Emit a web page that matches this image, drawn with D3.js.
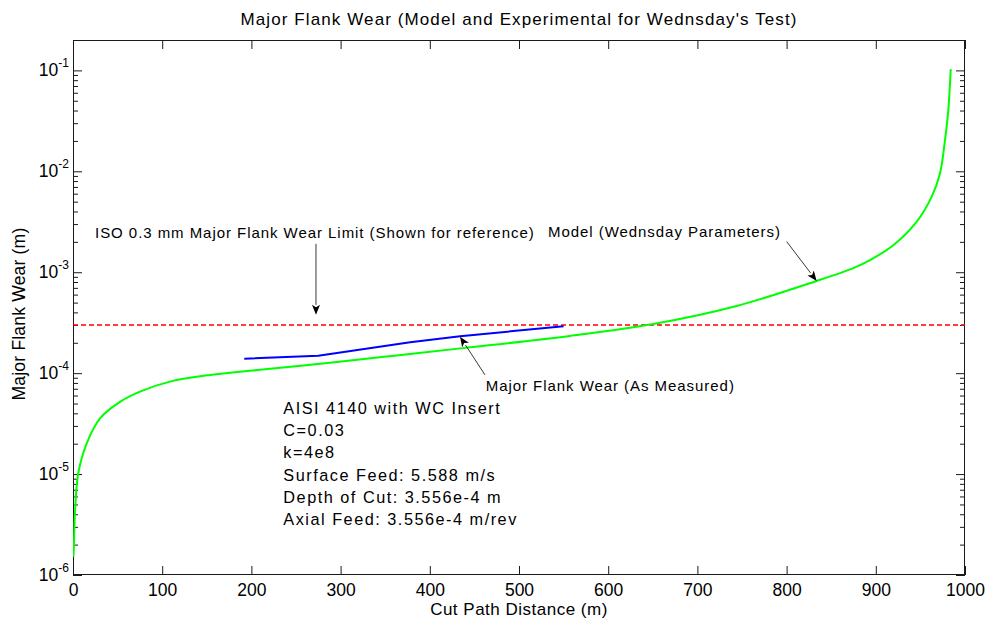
<!DOCTYPE html>
<html><head><meta charset="utf-8">
<script src="https://cdn.jsdelivr.net/npm/d3@7"></script>
<style>
body{margin:0;background:#fff;}
svg{display:block;font-family:"Liberation Sans",Arial,Helvetica,sans-serif;}
</style>
</head><body>
<svg id="chart" width="990" height="623"></svg>
<script>
// ---------- data ----------
const modelX = [0.5, 1.1, 2.2, 5.9, 15.4, 30.3, 52.7, 75.1, 108.7, 153.6, 209.6, 288, 363, 437, 557, 650.6, 744, 833.7, 874.8, 893.5, 919.6, 945.9, 962.7, 972, 977.6, 981.3, 984];
const modelY = [1.52e-6, 2.06e-6, 4.1e-6, 1.02e-5, 2.02e-5, 3.57e-5, 5.2e-5, 6.56e-5, 8.24e-5, 9.6e-5, 1.08e-4, 1.27e-4, 1.50e-4, 1.77e-4, 2.34e-4, 3.07e-4, 4.63e-4, 8.2e-4, 1.1e-3, 1.32e-3, 1.85e-3, 3.17e-3, 5.61e-3, 9.57e-3, 2.05e-2, 4.06e-2, 0.103];
const measuredX = [192, 275, 378, 434, 550];
const measuredY = [1.39e-4, 1.49e-4, 2.02e-4, 2.32e-4, 2.92e-4];
const limitX = [0, 1000];
const limitY = [3e-4, 3e-4];
const xTicks = [0, 100, 200, 300, 400, 500, 600, 700, 800, 900, 1000];
const yDecadeExps = [-6, -5, -4, -3, -2, -1];
const titleText = "Major Flank Wear (Model and Experimental for Wednsday's Test)";
const xLabelText = "Cut Path Distance (m)";
const yLabelText = "Major Flank Wear (m)";
const infoLines = ["AISI 4140 with WC Insert", "C=0.03", "k=4e8", "Surface Feed: 5.588 m/s", "Depth of Cut: 3.556e-4 m", "Axial Feed: 3.556e-4 m/rev"];
const annotations = [
  {text: "ISO 0.3 mm Major Flank Wear Limit (Shown for reference)", tx: 24.7, ty: 2.17e-3, ax1: 272.4, ay1: 1.91e-3, ax2: 272.4, ay2: 3.78e-4},
  {text: "Model (Wednsday Parameters)", tx: 532.5, ty: 2.22e-3, ax1: 800.1, ay1: 2.01e-3, ax2: 833.7, ay2: 8.2e-4},
  {text: "Major Flank Wear (As Measured)", tx: 462.7, ty: 6.71e-5, ax1: 461.9, ay1: 9.6e-5, ax2: 433.9, ay2: 2.30e-4}
];
const infoPos = {x: 235.8, y: 3.94e-5};

// ---------- layout ----------
const m = {l: 73, r: 965, t: 40, b: 575};
const svg = d3.select("#chart");
const x = d3.scaleLinear().domain([0, 1000]).range([m.l, m.r]);
const y = d3.scaleLog().domain([1e-6, 0.2]).range([m.b, m.t]);

// minor log ticks
const minorTicks = [];
yDecadeExps.forEach(e => { for (let k = 2; k <= 9; k++) { const v = k * Math.pow(10, e); if (v <= 0.2) minorTicks.push(v); } });

const axisColor = "#1a1a1a";
function styleAxis(g) { g.select(".domain").remove(); g.selectAll(".tick line").attr("stroke", axisColor); }

// bottom axis with labels
svg.append("g").attr("transform", `translate(0,${m.b})`)
  .call(d3.axisBottom(x).tickValues(xTicks).tickSize(-9).tickPadding(8.5).tickFormat(d3.format("d")))
  .call(styleAxis)
  .call(g => g.selectAll("text").attr("font-size", 17.5).attr("fill", "#000").attr("font-family", null));
// top axis ticks
svg.append("g").attr("transform", `translate(0,${m.t})`)
  .call(d3.axisTop(x).tickValues(xTicks).tickSize(-9).tickFormat(() => ""))
  .call(styleAxis);
// left / right major and minor ticks
svg.append("g").attr("transform", `translate(${m.l},0)`)
  .call(d3.axisLeft(y).tickValues(yDecadeExps.map(e => Math.pow(10, e))).tickSize(-9).tickFormat(() => "")).call(styleAxis);
svg.append("g").attr("transform", `translate(${m.l},0)`)
  .call(d3.axisLeft(y).tickValues(minorTicks).tickSize(-5).tickFormat(() => "")).call(styleAxis);
svg.append("g").attr("transform", `translate(${m.r},0)`)
  .call(d3.axisRight(y).tickValues(yDecadeExps.map(e => Math.pow(10, e))).tickSize(-9).tickFormat(() => "")).call(styleAxis);
svg.append("g").attr("transform", `translate(${m.r},0)`)
  .call(d3.axisRight(y).tickValues(minorTicks).tickSize(-5).tickFormat(() => "")).call(styleAxis);

// y tick labels 10^n
yDecadeExps.forEach(e => {
  const t = svg.append("text").attr("x", m.l - 4).attr("y", y(Math.pow(10, e)) + 6).attr("text-anchor", "end").attr("fill", "#000");
  t.append("tspan").attr("font-size", 17.5).text("10");
  t.append("tspan").attr("font-size", 12).attr("dy", -9).text(String(e));
});

// box
svg.append("rect").attr("x", m.l + 0.5).attr("y", m.t + 0.5).attr("width", m.r - m.l - 1).attr("height", m.b - m.t - 1)
  .attr("fill", "none").attr("stroke", axisColor).attr("stroke-width", 1);

// data lines
svg.append("clipPath").attr("id", "clip").append("rect").attr("x", m.l).attr("y", m.t).attr("width", m.r - m.l).attr("height", m.b - m.t);
const plot = svg.append("g").attr("clip-path", "url(#clip)");
const lineOf = (xs, ys, curve) => d3.line().x((d, i) => x(xs[i])).y((d, i) => y(ys[i])).curve(curve)(xs);
plot.append("path").attr("d", lineOf(limitX, limitY, d3.curveLinear)).attr("fill", "none")
  .attr("stroke", "#ff0000").attr("stroke-width", 1.5).attr("stroke-dasharray", "5,3");
plot.append("path").attr("d", lineOf(modelX, modelY, d3.curveCatmullRom.alpha(0.5))).attr("fill", "none")
  .attr("stroke", "#00ff00").attr("stroke-width", 2);
plot.append("path").attr("d", lineOf(measuredX, measuredY, d3.curveLinear)).attr("fill", "none")
  .attr("stroke", "#0000ff").attr("stroke-width", 2);

// annotations
function arrow(x1, y1, x2, y2) {
  const dx = x2 - x1, dy = y2 - y1, L = Math.hypot(dx, dy), ux = dx / L, uy = dy / L;
  const hl = 10, hw = 4;
  const bx = x2 - ux * hl, by = y2 - uy * hl;
  svg.append("line").attr("x1", x1).attr("y1", y1).attr("x2", bx).attr("y2", by).attr("stroke", "#222").attr("stroke-width", 0.9);
  svg.append("path").attr("d", `M${x2},${y2}L${bx - uy * hw},${by + ux * hw}L${bx + ux * 2.5},${by + uy * 2.5}L${bx + uy * hw},${by - ux * hw}Z`).attr("fill", "#000");
}
annotations.forEach(a => {
  svg.append("text").attr("x", x(a.tx)).attr("y", y(a.ty)).attr("font-size", 15).attr("letter-spacing", 0.95).attr("fill", "#000").text(a.text);
  arrow(x(a.ax1), y(a.ay1), x(a.ax2), y(a.ay2));
});

// info block
const info = svg.append("text").attr("font-size", 16.3).attr("letter-spacing", 1.5).attr("fill", "#000");
infoLines.forEach((s, i) => info.append("tspan").attr("x", x(infoPos.x)).attr("y", y(infoPos.y) + i * 22.2).text(s));

// title and axis labels
svg.append("text").attr("x", (m.l + m.r) / 2).attr("y", 24.5).attr("text-anchor", "middle").attr("font-size", 17).attr("letter-spacing", 1.1).attr("fill", "#000").text(titleText);
svg.append("text").attr("x", (m.l + m.r) / 2).attr("y", 615).attr("text-anchor", "middle").attr("font-size", 17).attr("letter-spacing", 0.5).attr("fill", "#000").text(xLabelText);
svg.append("text").attr("transform", `translate(25,314) rotate(-90)`).attr("text-anchor", "middle").attr("font-size", 17.5).attr("letter-spacing", 0.2).attr("fill", "#000").text(yLabelText);
</script>
</body></html>
